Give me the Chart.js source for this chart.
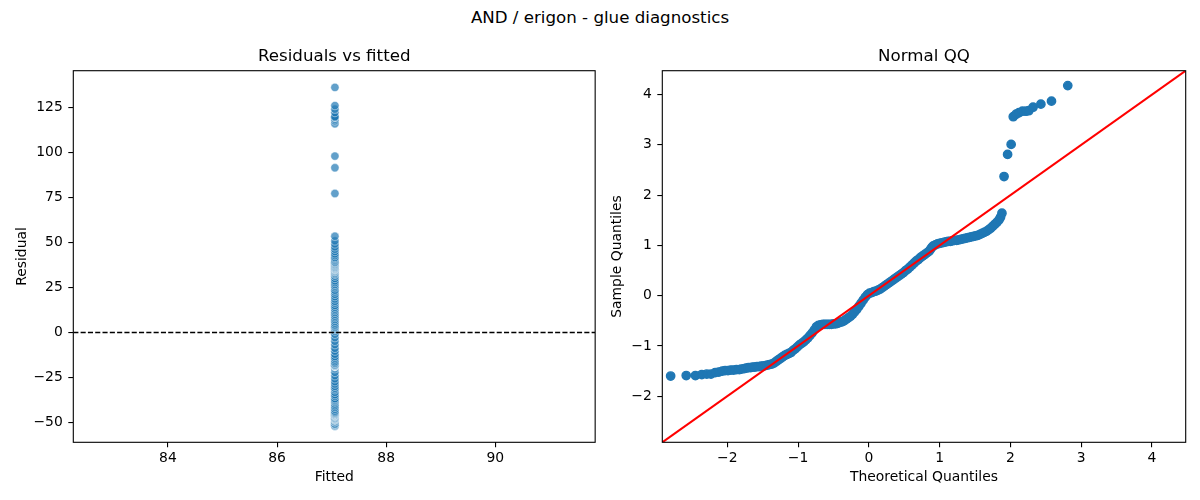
<!DOCTYPE html>
<html><head><meta charset="utf-8">
<script src="https://cdn.jsdelivr.net/npm/chart.js@4.4.1/dist/chart.umd.min.js"></script>
<style>
html,body{margin:0;padding:0;background:#fff;}
#wrap{position:relative;width:1200px;height:500px;background:#fff;overflow:hidden;}
#sup{position:absolute;left:0;top:8px;width:1200px;text-align:center;font-family:'DejaVu Sans',sans-serif;font-size:16.67px;line-height:20px;color:#000;}
canvas{position:absolute;top:0;}
#c1{left:0;} #c2{left:600px;}
</style></head><body>
<div id="wrap">
<div id="sup">AND / erigon - glue diagnostics</div>
<canvas id="c1" width="600" height="500"></canvas>
<canvas id="c2" width="600" height="500"></canvas>
</div>
<script>
// ---------- data ----------
const fittedValue = 87.06;
const residuals = [-52.2,-51.8,-51.8,-51.2,-50.9,-50.9,-49.9,-49.6,-48.9,-48.6,-48.6,-48.2,-48.2,-47.9,-47.9,-47.6,-47.3,-46.9,-46.6,-46.6,-46.3,-46.3,-46.0,-46.0,-45.6,-45.6,-45.3,-45.0,-44.7,-44.3,-43.7,-42.7,-41.7,-40.8,-39.8,-38.8,-38.1,-37.5,-36.8,-35.5,-34.6,-33.3,-31.9,-31.0,-30.0,-28.7,-27.4,-25.8,-24.1,-22.2,-20.2,-19.2,-18.9,-18.6,-18.6,-18.6,-18.6,-18.6,-18.3,-18.3,-17.9,-17.3,-17.0,-16.3,-15.3,-14.3,-13.4,-12.1,-10.4,-8.8,-6.8,-4.9,-2.9,-1.0,0.7,1.6,2.0,2.6,2.9,3.6,4.2,5.2,6.2,7.2,8.2,9.1,10.1,11.1,12.1,13.0,14.0,15.0,16.3,17.3,18.6,19.9,21.2,22.5,23.5,24.8,25.8,26.7,27.7,28.7,30.0,31.3,32.3,32.9,33.6,33.9,34.2,34.6,34.9,35.2,35.2,35.5,35.9,35.9,36.2,36.5,36.8,37.2,37.5,37.8,38.1,38.5,38.8,39.1,39.8,40.4,41.1,41.7,42.7,43.7,45.0,46.3,47.6,49.2,50.9,53.5,77.3,91.6,98.1,116.1,117.7,118.7,119.6,119.6,120.0,122.3,124.2,126.2,136.3];
const qqTheoretical = [-2.80,-2.58,-2.45,-2.36,-2.29,-2.23,-2.17,-2.12,-2.07,-2.03,-1.99,-1.95,-1.91,-1.87,-1.83,-1.80,-1.76,-1.73,-1.70,-1.67,-1.64,-1.61,-1.58,-1.55,-1.52,-1.49,-1.46,-1.43,-1.40,-1.37,-1.34,-1.31,-1.28,-1.25,-1.22,-1.19,-1.16,-1.13,-1.10,-1.07,-1.04,-1.01,-0.98,-0.95,-0.92,-0.89,-0.86,-0.83,-0.80,-0.77,-0.74,-0.71,-0.68,-0.65,-0.62,-0.59,-0.56,-0.53,-0.50,-0.47,-0.44,-0.41,-0.38,-0.35,-0.32,-0.29,-0.26,-0.23,-0.20,-0.17,-0.14,-0.11,-0.08,-0.05,-0.02,0.01,0.04,0.07,0.10,0.13,0.16,0.19,0.22,0.25,0.28,0.31,0.34,0.37,0.40,0.43,0.46,0.49,0.52,0.55,0.58,0.61,0.64,0.67,0.70,0.73,0.76,0.79,0.82,0.85,0.87,0.89,0.91,0.94,0.97,1.00,1.03,1.06,1.09,1.12,1.15,1.18,1.21,1.24,1.27,1.30,1.33,1.36,1.39,1.42,1.45,1.48,1.51,1.54,1.57,1.60,1.63,1.66,1.69,1.72,1.75,1.78,1.81,1.84,1.86,1.88,1.91,1.96,2.01,2.04,2.08,2.12,2.17,2.22,2.26,2.32,2.43,2.58,2.81];
const qqSample = [-1.60,-1.59,-1.59,-1.57,-1.56,-1.56,-1.53,-1.52,-1.50,-1.49,-1.49,-1.48,-1.48,-1.47,-1.47,-1.46,-1.45,-1.44,-1.43,-1.43,-1.42,-1.42,-1.41,-1.41,-1.40,-1.40,-1.39,-1.38,-1.37,-1.36,-1.34,-1.31,-1.28,-1.25,-1.22,-1.19,-1.17,-1.15,-1.13,-1.09,-1.06,-1.02,-0.98,-0.95,-0.92,-0.88,-0.84,-0.79,-0.74,-0.68,-0.62,-0.59,-0.58,-0.57,-0.57,-0.57,-0.57,-0.57,-0.56,-0.56,-0.55,-0.53,-0.52,-0.50,-0.47,-0.44,-0.41,-0.37,-0.32,-0.27,-0.21,-0.15,-0.09,-0.03,0.02,0.05,0.06,0.08,0.09,0.11,0.13,0.16,0.19,0.22,0.25,0.28,0.31,0.34,0.37,0.40,0.43,0.46,0.50,0.53,0.57,0.61,0.65,0.69,0.72,0.76,0.79,0.82,0.85,0.88,0.92,0.96,0.99,1.01,1.03,1.04,1.05,1.06,1.07,1.08,1.08,1.09,1.10,1.10,1.11,1.12,1.13,1.14,1.15,1.16,1.17,1.18,1.19,1.20,1.22,1.24,1.26,1.28,1.31,1.34,1.38,1.42,1.46,1.51,1.56,1.64,2.37,2.81,3.01,3.56,3.61,3.64,3.67,3.67,3.68,3.75,3.81,3.87,4.18];
const residXTicks = [84, 86, 88, 90];
const residYTicks = [-50, -25, 0, 25, 50, 75, 100, 125];
const qqTicks = [-2, -1, 0, 1, 2, 3, 4];
const residXRange = [82.265, 91.83];
const residYRange = [-61.1, 145.6];
const qqRange = [-2.918, 4.476];

// ---------- styling ----------
Chart.defaults.font.family = "'DejaVu Sans', sans-serif";
Chart.defaults.font.size = 13.9;
Chart.defaults.color = '#000';

const fmt = v => String(v).replace('-', '\u2212');

const framePlugin = {
  id: 'frame',
  afterDatasetsDraw(chart) {
    const {ctx, chartArea: a} = chart;
    ctx.save();
    ctx.strokeStyle = '#000';
    ctx.lineWidth = 1.1;
    ctx.strokeRect(a.left, a.top, a.right - a.left, a.bottom - a.top);
    ctx.restore();
  }
};

function axis(o) {
  return {
    type: 'linear',
    position: o.position,
    min: o.range[0], max: o.range[1],
    afterBuildTicks: s => { s.ticks = o.ticks.map(v => ({value: v})); },
    afterFit: s => { if (o.width != null) s.width = o.width; if (o.height != null) s.height = o.height; },
    grid: {display: true, drawOnChartArea: false, drawTicks: true, tickLength: 5, tickWidth: 1.1, tickColor: '#000', color: '#000', lineWidth: 1.1},
    border: {display: false},
    ticks: {padding: o.padding, color: '#000', font: {size: 13.9}, callback: v => fmt(v), maxRotation: 0, minRotation: 0, autoSkip: false},
    title: {display: true, text: o.title, color: '#000', font: {size: 13.9, lineHeight: 1.2}, padding: o.titlePadding}
  };
}

function titleOpts(text) {
  return {display: true, text, fullSize: false, color: '#000',
    font: {size: 16.67, weight: 'normal', lineHeight: 1.2}, padding: {top: 47, bottom: 3.7}};
}

new Chart(document.getElementById('c1'), {
  type: 'scatter',
  data: { datasets: [
    { label: 'zero', data: residXRange.map(x => ({x, y: 0})), showLine: true,
      borderColor: '#000', borderWidth: 1.39, borderDash: [5.1, 2.2], pointRadius: 0, fill: false, order: 0 },
    { label: 'residuals', data: residuals.map(r => ({x: fittedValue, y: r})),
      backgroundColor: 'rgba(31,119,180,0.7)', borderColor: 'rgba(255,255,255,0.7)', borderWidth: 0.67,
      pointRadius: 4.17, order: 1 }
  ]},
  options: {
    responsive: false, animation: false, events: [],
    layout: {padding: {left: 0, right: 3.3, top: 0, bottom: 0}},
    plugins: {legend: {display: false}, tooltip: {enabled: false}, title: titleOpts('Residuals vs fitted')},
    scales: {
      x: axis({position: 'bottom', range: residXRange, ticks: residXTicks, height: 57.7, padding: 2.5,
               title: 'Fitted', titlePadding: {top: 0, bottom: 14.7}}),
      y: axis({position: 'left', range: residYRange, ticks: residYTicks, width: 73.3, padding: 5.5,
               title: 'Residual', titlePadding: {top: 13.7, bottom: 0}})
    }
  },
  plugins: [framePlugin]
});

new Chart(document.getElementById('c2'), {
  type: 'scatter',
  data: { datasets: [
    { label: '45 line', data: qqRange.map(v => ({x: v, y: v})), showLine: true,
      borderColor: '#ff0000', borderWidth: 2.08, pointRadius: 0, fill: false, order: 0 },
    { label: 'qq', data: qqTheoretical.map((t, i) => ({x: t, y: qqSample[i]})),
      backgroundColor: '#1f77b4', borderColor: '#1f77b4', borderWidth: 1.39, pointRadius: 4.17, order: 1 }
  ]},
  options: {
    responsive: false, animation: false, events: [],
    layout: {padding: {left: 0, right: 14.3, top: 0, bottom: 0}},
    plugins: {legend: {display: false}, tooltip: {enabled: false}, title: titleOpts('Normal QQ')},
    scales: {
      x: axis({position: 'bottom', range: qqRange, ticks: qqTicks, height: 57.7, padding: 2.5,
               title: 'Theoretical Quantiles', titlePadding: {top: 0, bottom: 14.7}}),
      y: axis({position: 'left', range: qqRange, ticks: qqTicks, width: 62.3, padding: 5.5,
               title: 'Sample Quantiles', titlePadding: {top: 9.2, bottom: 0}})
    }
  },
  plugins: [framePlugin]
});
</script>
</body></html>
